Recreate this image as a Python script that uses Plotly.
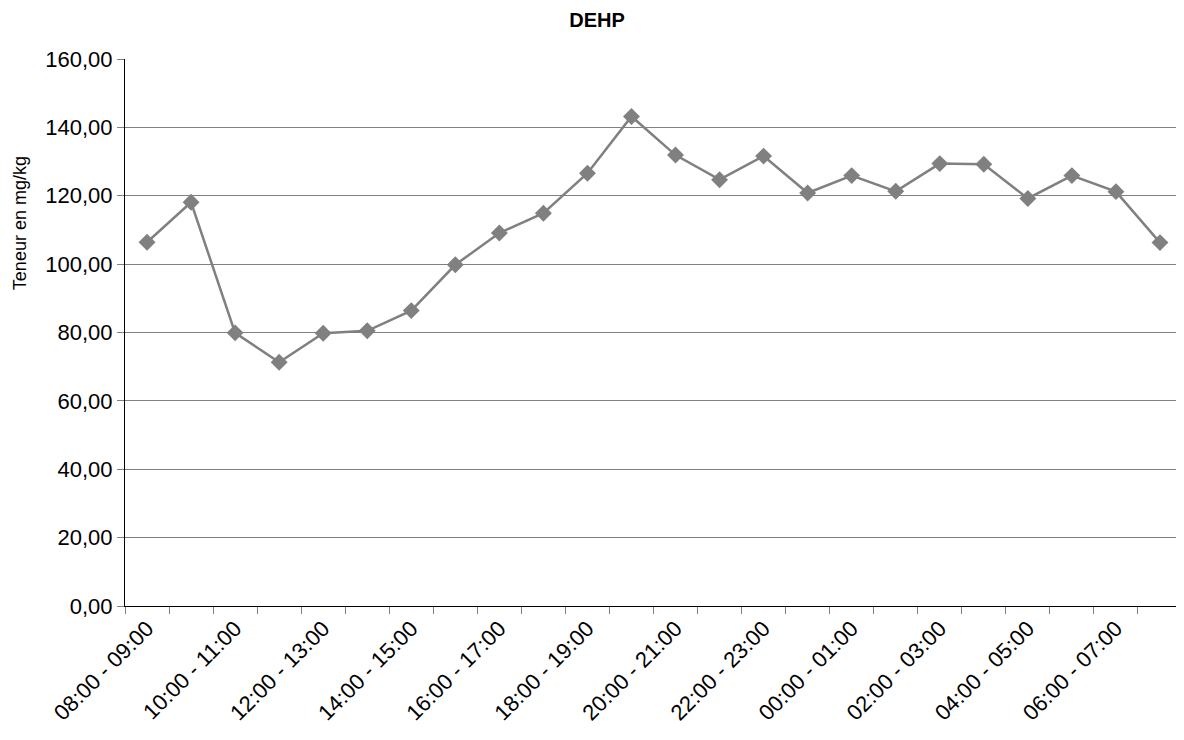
import plotly.graph_objects as go

# hourly slots, 08:00 -> 08:00 next day
slots = ['08:00 - 09:00', '09:00 - 10:00', '10:00 - 11:00', '11:00 - 12:00',
         '12:00 - 13:00', '13:00 - 14:00', '14:00 - 15:00', '15:00 - 16:00',
         '16:00 - 17:00', '17:00 - 18:00', '18:00 - 19:00', '19:00 - 20:00',
         '20:00 - 21:00', '21:00 - 22:00', '22:00 - 23:00', '23:00 - 00:00',
         '00:00 - 01:00', '01:00 - 02:00', '02:00 - 03:00', '03:00 - 04:00',
         '04:00 - 05:00', '05:00 - 06:00', '06:00 - 07:00', '07:00 - 08:00']
dehp = [106.4, 118.1, 79.9, 71.3, 79.8, 80.5, 86.4, 99.8, 109.1, 114.9, 126.6, 143.2,
        131.9, 124.7, 131.6, 120.8, 125.9, 121.3, 129.4, 129.2, 119.2, 125.9, 121.2, 106.3]
y_ticks = [0, 20, 40, 60, 80, 100, 120, 140, 160]
y_labels = ['0,00', '20,00', '40,00', '60,00', '80,00', '100,00', '120,00', '140,00', '160,00']

# only every second slot gets a label
tick_text = [s if i % 2 == 0 else '' for i, s in enumerate(slots)]

grey = '#808080'

fig = go.Figure()
fig.add_trace(go.Scatter(x=slots, y=dehp,
                         mode='lines+markers',
                         line=dict(color=grey, width=2.5),
                         marker=dict(symbol='diamond', size=13, color=grey),
                         showlegend=False))

# page has an 8px body margin, so positions are shifted by 8
fig.update_layout(
    width=1184, height=740,
    margin=dict(l=117, r=10, t=51, b=142),
    paper_bgcolor='white', plot_bgcolor='white',
    font=dict(family='Liberation Sans, Arial, sans-serif', color='black'),
    title=dict(text='<b>DEHP</b>', x=0.4975, xanchor='center',
               y=0.993, yanchor='top', pad=dict(t=0),
               font=dict(size=20)),
)

fig.update_xaxes(type='category', range=[-0.5, 23.5],
                 tickmode='array', tickvals=slots, ticktext=tick_text,
                 tickson='boundaries', ticks='outside', ticklen=7,
                 tickcolor=grey, tickangle=-45,
                 tickfont=dict(size=22),
                 showline=True, linecolor='black', linewidth=1,
                 showgrid=False, zeroline=False)

fig.update_yaxes(range=[0, 160], tickmode='array', tickvals=y_ticks, ticktext=y_labels,
                 ticks='outside', ticklen=7, tickcolor=grey,
                 tickfont=dict(size=22),
                 showline=True, linecolor='black', linewidth=1,
                 showgrid=True, gridcolor=grey, gridwidth=1,
                 zeroline=False)

fig.add_annotation(text='Teneur en mg/kg', textangle=-90,
                   xref='paper', yref='paper', x=-0.0993, y=0.70,
                   xanchor='center', yanchor='middle',
                   showarrow=False, font=dict(size=18))

fig.write_html('out.html')
